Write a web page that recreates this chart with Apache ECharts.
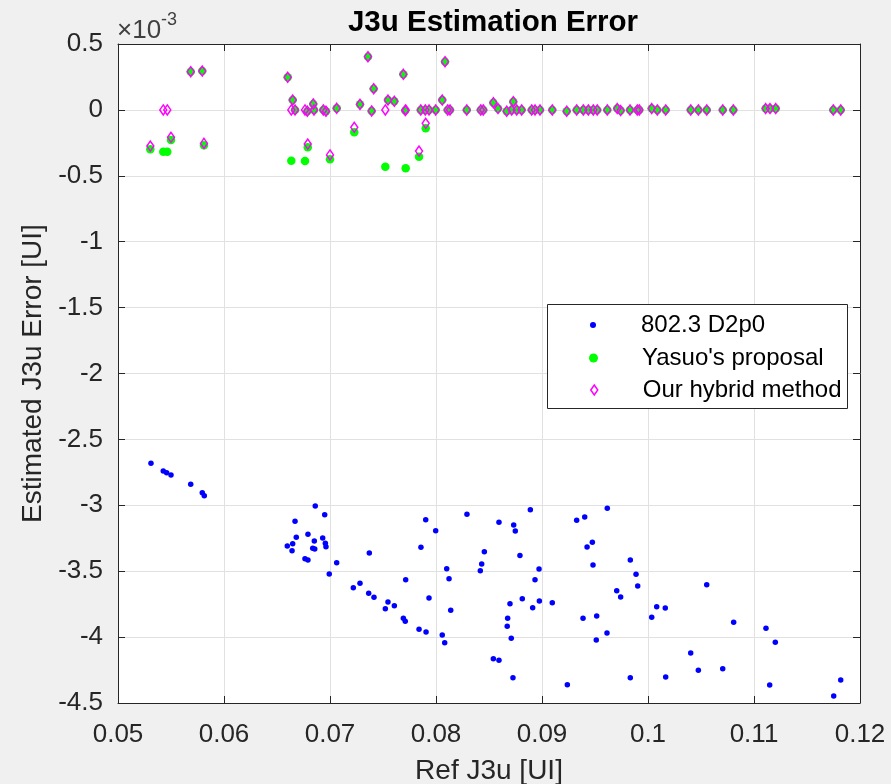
<!DOCTYPE html>
<html>
<head>
<meta charset="utf-8">
<script src="https://cdn.jsdelivr.net/npm/echarts@6/dist/echarts.min.js"></script>
<style>
html,body{margin:0;padding:0;background:#f0f0f0;}
#chart{width:891px;height:784px;}
</style>
</head>
<body>
<div id="chart"></div>
<script>
// ---- Data (y values in units of 1e-3 UI) ----
const xTickLabels = ['0.05','0.06','0.07','0.08','0.09','0.1','0.11','0.12'];
const yTickLabels = ['-4.5','-4','-3.5','-3','-2.5','-2','-1.5','-1','-0.5','0','0.5'];

// 802.3 D2p0
const d2p0X = [0.05311,0.05427,0.05459,0.05500,0.05686,0.05795,0.05814,0.06861,0.06950,0.06670,
0.06792,0.06682,0.06852,0.06931,0.06648,0.06597,0.06956,0.06962,0.06837,0.06856,
0.06642,0.06764,0.06792,0.07063,0.06993,0.07220,0.07283,0.07371,0.07903,0.07997,
0.07858,0.08292,0.08594,0.08733,0.08748,0.08890,0.08456,0.08792,0.08431,0.08418,
0.08101,0.08123,0.08972,0.08934,0.07714,0.07365,0.07415,0.07934,0.08814,0.09327,
0.09403,0.09616,0.09475,0.09425,0.09481,0.09705,0.07547,0.07607,0.07522,0.07692,
0.07710,0.07840,0.07906,0.08139,0.08059,0.08082,0.08698,0.08912,0.08975,0.09097,
0.08676,0.08672,0.08710,0.08541,0.08594,0.08726,0.09239,0.09387,0.09516,0.09512,
0.09613,0.09833,0.09887,0.09903,0.09742,0.10554,0.10082,0.10163,0.10035,0.10808,
0.11113,0.11201,0.10403,0.10475,0.10705,0.09833,0.10167,0.11148,0.11818,0.11752];
const d2p0Y = [-2.681,-2.740,-2.753,-2.770,-2.841,-2.904,-2.927,-3.005,-3.071,-3.121,
-3.220,-3.243,-3.271,-3.248,-3.291,-3.309,-3.288,-3.314,-3.326,-3.332,
-3.344,-3.405,-3.415,-3.436,-3.521,-3.625,-3.592,-3.362,-3.109,-3.193,
-3.319,-3.068,-3.129,-3.150,-3.195,-3.033,-3.352,-3.380,-3.445,-3.496,
-3.481,-3.557,-3.483,-3.564,-3.564,-3.668,-3.698,-3.703,-3.709,-3.114,
-3.089,-3.023,-3.281,-3.316,-3.453,-3.648,-3.734,-3.762,-3.785,-3.857,
-3.880,-3.941,-3.961,-3.797,-3.984,-4.043,-3.747,-3.777,-3.726,-3.739,
-3.857,-3.918,-4.009,-4.164,-4.176,-4.308,-4.361,-3.857,-3.840,-4.022,
-3.969,-3.415,-3.524,-3.612,-3.696,-3.602,-3.769,-3.779,-3.850,-3.888,
-3.933,-4.039,-4.121,-4.252,-4.240,-4.308,-4.303,-4.364,-4.326,-4.447];

// Yasuo's proposal and Our hybrid method (shared x)
const estX = [0.05305,0.05427,0.05465,0.05500,0.05686,0.05795,0.05811,0.06601,0.06635,0.06648,
0.06670,0.06764,0.06786,0.06790,0.06842,0.06849,0.06937,0.06962,0.07000,0.07063,
0.07229,0.07283,0.07358,0.07393,0.07412,0.07522,0.07547,0.07607,0.07692,0.07710,
0.07714,0.07840,0.07856,0.07899,0.07903,0.07934,0.07997,0.08059,0.08085,0.08110,
0.08132,0.08290,0.08422,0.08446,0.08541,0.08585,0.08667,0.08714,0.08729,0.08761,
0.08808,0.08903,0.08934,0.08981,0.09097,0.09233,0.09327,0.09390,0.09437,0.09484,
0.09521,0.09616,0.09710,0.09742,0.09830,0.09899,0.09918,0.10035,0.10088,0.10167,
0.10403,0.10475,0.10554,0.10705,0.10805,0.11110,0.11151,0.11205,0.11748,0.11818];
const yasuoY = [-0.299,-0.317,-0.317,-0.228,0.290,0.295,-0.269,0.247,-0.385,0.075,
0.000,-0.388,-0.010,-0.284,0.045,0.000,0.000,-0.010,-0.375,0.012,
-0.170,0.042,0.404,-0.008,0.161,-0.431,0.075,0.065,0.270,-0.005,
-0.443,-0.355,0.000,0.000,-0.140,0.000,0.000,0.075,0.366,0.000,
0.000,0.000,0.000,0.000,0.055,0.010,-0.010,0.000,0.062,0.000,
0.000,0.000,0.000,0.000,0.000,-0.010,0.000,0.000,0.000,0.000,
0.000,0.000,0.010,-0.005,0.000,0.000,0.000,0.010,0.000,0.000,
0.000,0.000,0.000,0.000,0.000,0.010,0.010,0.010,0.000,0.000];
const hybridY = [-0.274,0.000,0.000,-0.208,0.290,0.295,-0.254,0.247,0.000,0.075,
0.000,0.000,-0.010,-0.259,0.045,0.000,0.000,-0.010,-0.342,0.012,
-0.132,0.042,0.404,-0.008,0.161,0.000,0.075,0.065,0.270,-0.005,
0.000,-0.312,0.000,0.000,-0.102,0.000,0.000,0.075,0.366,0.000,
0.000,0.000,0.000,0.000,0.055,0.010,-0.010,0.000,0.062,0.000,
0.000,0.000,0.000,0.000,0.000,-0.010,0.000,0.000,0.000,0.000,
0.000,0.000,0.010,-0.005,0.000,0.000,0.000,0.010,0.000,0.000,
0.000,0.000,0.000,0.000,0.000,0.010,0.010,0.010,0.000,0.000];

const seriesNames = ['802.3 D2p0', "Yasuo's proposal", 'Our hybrid method'];

// ---- Build ----
const zip = (xs, ys) => xs.map((x, i) => [x, ys[i]]);
const FONT = '"Liberation Sans", Arial, Helvetica, sans-serif';
const AX = '#262626';

const chart = echarts.init(document.getElementById('chart'), null, {renderer: 'canvas'});

const xCommon = {type: 'value', min: 0.05, max: 0.12, interval: 0.01};
const yCommon = {type: 'value', min: -4.5, max: 0.5, interval: 0.5};

const legendBase = {
  orient: 'vertical', padding: 0, selectedMode: false,
  textStyle: {fontFamily: FONT, fontSize: 24, color: '#000'}
};

const option = {
  backgroundColor: '#f0f0f0',
  animation: false,
  title: {
    text: 'J3u Estimation Error', left: 488, top: 3, textAlign: 'center',
    textStyle: {fontFamily: FONT, fontSize: 29.5, fontWeight: 'bold', color: '#000'}
  },
  grid: {left: 118, right: 31, top: 44, bottom: 81, show: true, backgroundColor: '#fff', borderWidth: 0,
    containLabel: false, outerBoundsMode: 'none'},
  xAxis: [
    Object.assign({}, xCommon, {
      position: 'bottom',
      name: 'Ref J3u [UI]', nameLocation: 'middle', nameGap: 54,
      nameTextStyle: {fontFamily: FONT, fontSize: 28, color: AX},
      axisLine: {show: true, onZero: false, lineStyle: {color: AX, width: 1}},
      axisTick: {show: true, inside: true, length: 7, lineStyle: {color: AX}},
      axisLabel: {fontFamily: FONT, fontSize: 26, color: AX, margin: 19,
        formatter: (v, i) => xTickLabels[i]},
      splitLine: {show: true, lineStyle: {color: '#e1e1e1', width: 1}}
    }),
    Object.assign({}, xCommon, {
      position: 'top',
      axisLine: {show: true, onZero: false, lineStyle: {color: AX, width: 1}},
      axisTick: {show: true, inside: true, length: 7, lineStyle: {color: AX}},
      axisLabel: {show: false}, splitLine: {show: false}
    })
  ],
  yAxis: [
    Object.assign({}, yCommon, {
      position: 'left',
      name: 'Estimated J3u Error [UI]', nameLocation: 'middle', nameGap: 58, nameRotate: 90,
      nameTextStyle: {fontFamily: FONT, fontSize: 28, color: AX},
      axisLine: {show: true, onZero: false, lineStyle: {color: AX, width: 1}},
      axisTick: {show: true, inside: true, length: 7, lineStyle: {color: AX}},
      axisLabel: {fontFamily: FONT, fontSize: 26, color: AX, margin: 15,
        formatter: (v, i) => yTickLabels[i]},
      splitLine: {show: true, lineStyle: {color: '#e1e1e1', width: 1}}
    }),
    Object.assign({}, yCommon, {
      position: 'right',
      axisLine: {show: true, onZero: false, lineStyle: {color: AX, width: 1}},
      axisTick: {show: true, inside: true, length: 7, lineStyle: {color: AX}},
      axisLabel: {show: false}, splitLine: {show: false}
    })
  ],
  legend: [
    Object.assign({}, legendBase, {
      data: [seriesNames[0]], left: 590, top: 313, itemWidth: 6, itemHeight: 6,
      textStyle: Object.assign({}, legendBase.textStyle, {padding: [0, 0, 0, 40]})
    }),
    Object.assign({}, legendBase, {
      data: [seriesNames[1]], left: 589, top: 346, itemWidth: 9, itemHeight: 9,
      textStyle: Object.assign({}, legendBase.textStyle, {padding: [0, 0, 0, 39]})
    }),
    Object.assign({}, legendBase, {
      data: [seriesNames[2]], left: 590, top: 378, itemWidth: 7, itemHeight: 10,
      itemStyle: {color: 'rgba(0,0,0,0)', borderColor: '#ff00ff', borderWidth: 1.5},
      textStyle: Object.assign({}, legendBase.textStyle, {padding: [0, 0, 0, 40]})
    })
  ],
  graphic: [
    {type: 'rect', left: 547, top: 304, z: 3,
     shape: {width: 300, height: 104},
     style: {fill: '#fff', stroke: '#262626', lineWidth: 1}},
    {type: 'text', left: 117, top: 18, z: 5,
     style: {text: '×10', fontFamily: FONT, fontSize: 26, fill: '#404040'}},
    {type: 'text', left: 161, top: 11, z: 5,
     style: {text: '-3', fontFamily: FONT, fontSize: 18, fill: '#404040'}}
  ],
  series: [
    {name: seriesNames[0], type: 'scatter', data: zip(d2p0X, d2p0Y),
     symbol: 'circle', symbolSize: 5.5, itemStyle: {color: '#0000ff', opacity: 1}},
    {name: seriesNames[1], type: 'scatter', data: zip(estX, yasuoY),
     symbol: 'circle', symbolSize: 8.5, itemStyle: {color: '#00ff00', opacity: 1}},
    {name: seriesNames[2], type: 'scatter', data: zip(estX, hybridY),
     symbol: 'diamond', symbolSize: [7, 10],
     itemStyle: {color: 'rgba(0,0,0,0)', borderColor: '#ff00ff', borderWidth: 1.5, opacity: 1}}
  ]
};
chart.setOption(option);
</script>
</body>
</html>
